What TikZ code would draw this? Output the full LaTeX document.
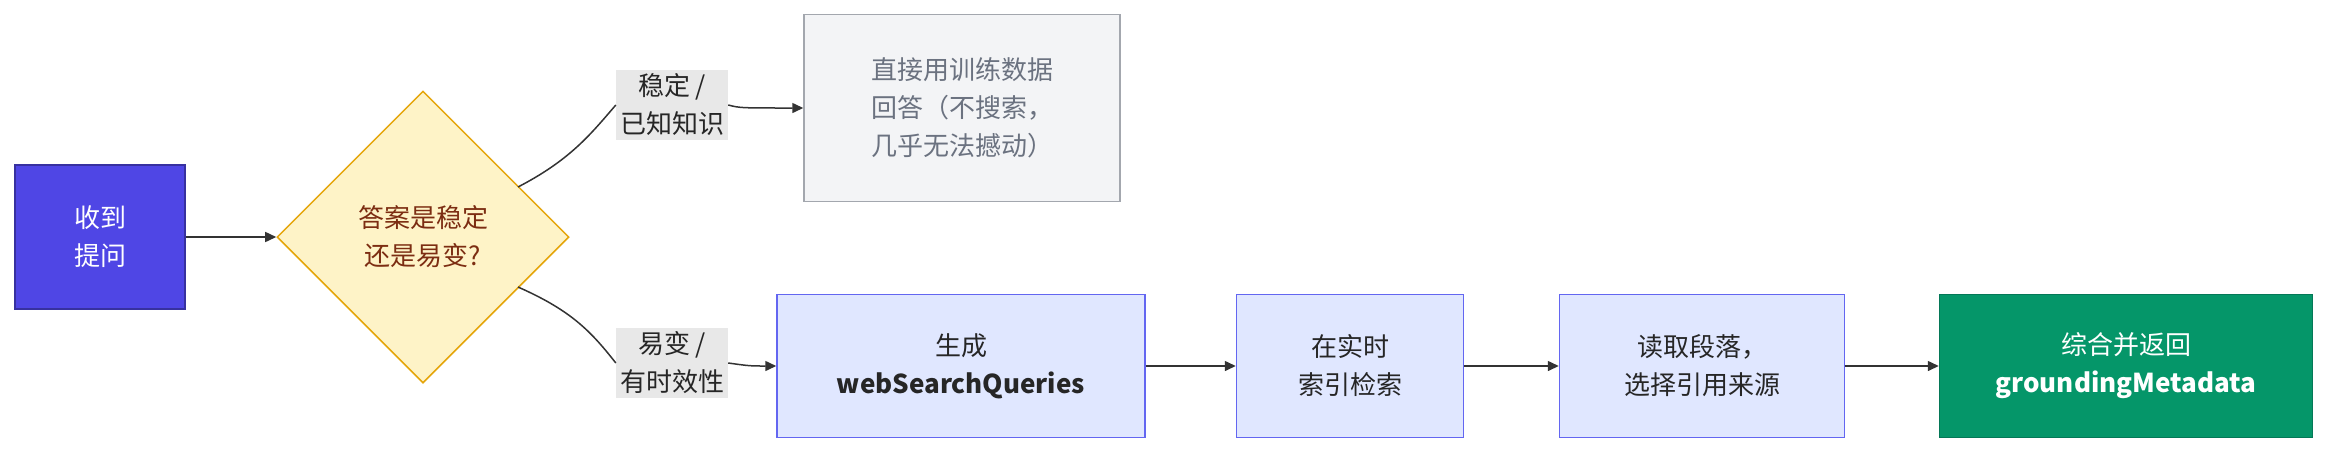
\documentclass[tikz,border=0pt]{standalone}
\usepackage{fontspec}
\setmainfont{Noto Sans CJK SC}
\usetikzlibrary{shapes.geometric,arrows.meta}
\definecolor{violet}{HTML}{4F46E5}
\definecolor{dfill}{HTML}{FEF3C7}
\definecolor{dline}{HTML}{E5A50A}
\definecolor{dtext}{HTML}{7C2D12}
\definecolor{gfill}{HTML}{F3F4F6}
\definecolor{gline}{HTML}{A3A7AE}
\definecolor{gtext}{HTML}{6B7280}
\definecolor{bfill}{HTML}{E0E7FF}
\definecolor{bline}{HTML}{6366F1}
\definecolor{green}{HTML}{059669}
\definecolor{gborder}{HTML}{047857}
\definecolor{lbl}{HTML}{E8E8E8}
\definecolor{edge}{HTML}{333333}
\begin{document}
\begin{tikzpicture}[x=1pt,y=-1pt,
  every node/.style={font=\fontsize{26}{38}\selectfont, align=center, inner sep=0},
  box/.style={draw=bline, fill=bfill, line width=1.5pt, minimum height=143pt, text=black!85},
  lab/.style={fill=lbl, inner sep=4pt, text=black!85},
  arr/.style={draw=edge, line width=1.5pt, -{Triangle[length=11pt,width=10pt]}}]
\useasboundingbox (0,0) rectangle (2352,459);
\node[draw=violet!70!black, fill=violet, text=white, line width=1.5pt, minimum width=170pt, minimum height=144pt] (a) at (100,237) {收到\\提问};
\node[diamond, draw=dline, fill=dfill, text=dtext, line width=1.5pt, minimum width=292pt, minimum height=292pt] (d) at (423,237) {答案是稳定\\还是易变?};
\node[draw=gline, fill=gfill, text=gtext, line width=1.5pt, minimum width=316pt, minimum height=187pt] (t) at (962,108) {直接用训练数据\\回答（不搜索，\\几乎无法撼动）};
\node[lab] (l1) at (672,105) {稳定 /\\已知知识};
\node[lab] (l2) at (672,363) {易变 /\\有时效性};
\node[box, minimum width=368pt] (b1) at (961,366) {生成\\\bfseries webSearchQueries};
\node[box, minimum width=227pt] (b2) at (1350,366) {在实时\\索引检索};
\node[box, minimum width=285pt] (b3) at (1702,366) {读取段落，\\选择引用来源};
\node[draw=gborder, fill=green, text=white, line width=1.5pt, minimum width=373pt, minimum height=143pt] (b4) at (2126,366) {综合并返回\\\bfseries groundingMetadata};
\draw[arr] (a) -- (d);
\draw[draw=edge, line width=1.5pt] (518,187) .. controls (570,160) and (590,135) .. (l1.west);
\draw[arr] (l1.east) .. controls (740,108) .. (t.west);
\draw[draw=edge, line width=1.5pt] (518,287) .. controls (570,310) and (590,330) .. (l2.west);
\draw[arr] (l2.east) .. controls (750,366) .. (b1.west);
\draw[arr] (b1) -- (b2);
\draw[arr] (b2) -- (b3);
\draw[arr] (b3) -- (b4);
\end{tikzpicture}
\end{document}
